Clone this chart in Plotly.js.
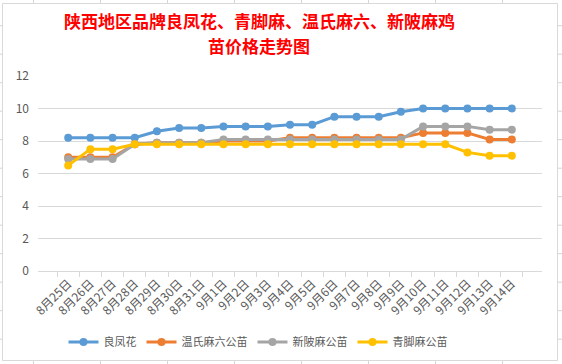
<!DOCTYPE html>
<html>
<head>
<meta charset="utf-8">
<script src="https://cdn.plot.ly/plotly-3.0.1.min.js"></script>
<style>html,body{margin:0;padding:0;background:#fff;}#chart{width:562px;height:364px;}</style>
</head>
<body>
<div id="chart"></div>
<script>
const dates = ['8月25日','8月26日','8月27日','8月28日','8月29日','8月30日','8月31日','9月1日','9月2日','9月3日','9月4日','9月5日','9月6日','9月7日','9月8日','9月9日','9月10日','9月11日','9月12日','9月13日','9月14日'];
const liangfenghua = [8.2,8.2,8.2,8.2,8.6,8.8,8.8,8.9,8.9,8.9,9.0,9.0,9.5,9.5,9.5,9.8,10,10,10,10,10];
const wenshiMaliu = [7.0,7.0,7.0,7.8,7.9,7.9,7.9,8.0,8.0,8.0,8.2,8.2,8.2,8.2,8.2,8.2,8.5,8.5,8.5,8.1,8.1];
const xinpiMa = [6.9,6.9,6.9,7.8,7.9,7.9,7.9,8.1,8.1,8.1,8.1,8.1,8.1,8.1,8.1,8.1,8.9,8.9,8.9,8.7,8.7];
const qingjiaoMa = [6.5,7.5,7.5,7.8,7.8,7.8,7.8,7.8,7.8,7.8,7.8,7.8,7.8,7.8,7.8,7.8,7.8,7.8,7.3,7.1,7.1];
const seriesNames = ['良凤花','温氏麻六公苗','新陂麻公苗','青脚麻公苗'];
const colors = ['#5B9BD5','#ED7D31','#A5A5A5','#FFC000'];
const yTicks = [0,2,4,6,8,10,12];
const titleLines = ['陕西地区品牌良凤花、青脚麻、温氏麻六、新陂麻鸡', '苗价格走势图'];

const W = 562, H = 364;
const mL = 38, mR = 20, mT = 76, mB = 93;
const pw = W - mL - mR, ph = H - mT - mB;
const px = x => (x - mL) / pw;
const py = y => (H - mB - y) / ph;

const allSeries = [liangfenghua, wenshiMaliu, xinpiMa, qingjiaoMa];
const traces = allSeries.map((s, i) => ({
  type: 'scatter', mode: 'lines+markers', name: seriesNames[i],
  x: dates, y: s,
  line: {color: colors[i], width: 3},
  marker: {color: colors[i], size: 8}
}));

const shapes = [];
const sheetLine = '#d6d6d6';
for (let k = 0; k < 8; k++) {
  const x = 33.5 + 67 * k;
  shapes.push({type:'line', xref:'paper', yref:'paper', x0:px(x), x1:px(x), y0:py(0), y1:py(H), line:{color:sheetLine, width:1}, layer:'below'});
}
for (let k = 0; k < 12; k++) {
  const y = 25.7 + 28.5 * k;
  shapes.push({type:'line', xref:'paper', yref:'paper', x0:px(0), x1:px(W), y0:py(y), y1:py(y), line:{color:sheetLine, width:1}, layer:'below'});
}
shapes.push({type:'rect', xref:'paper', yref:'paper', x0:px(2.5), x1:px(557.5), y0:py(3.5), y1:py(360.5), fillcolor:'#ffffff', line:{color:'#d9d9d9', width:1}, layer:'below'});

const titleY = [21, 45.5];
const annotations = titleLines.map((t, i) => ({
  text: t, xref: 'paper', yref: 'paper',
  x: px(259), y: py(titleY[i]), xanchor: 'center', yanchor: 'middle',
  showarrow: false, align: 'center', borderpad: 0,
  font: {family: '"Noto Sans CJK SC", sans-serif', size: 17, color: '#ff0000', weight: 'bold'}
}));

const layout = {
  width: W, height: H,
  margin: {l: mL, r: mR, t: mT, b: mB, autoexpand: false},
  paper_bgcolor: '#ffffff',
  plot_bgcolor: 'rgba(0,0,0,0)',
  font: {family: '"Noto Sans CJK SC", sans-serif', color: '#595959', size: 11},
  annotations: annotations,
  xaxis: {
    type: 'category', tickangle: -45, tickson: 'boundaries',
    ticks: 'outside', ticklen: 5, tickcolor: '#d9d9d9',
    showline: true, linecolor: '#d9d9d9', linewidth: 1,
    showgrid: false, zeroline: false,
    tickfont: {size: 12, color: '#595959'}, automargin: false
  },
  yaxis: {
    range: [0, 12], tickvals: yTicks, ticktext: yTicks.map(String),
    showgrid: true, gridcolor: '#d9d9d9', gridwidth: 1,
    zeroline: false, showline: false, ticks: '', ticklabelstandoff: 8,
    tickfont: {size: 12, color: '#595959'}, automargin: false
  },
  legend: {
    orientation: 'h', x: 258 / W, xref: 'container', xanchor: 'center',
    y: py(342), yanchor: 'middle',
    font: {size: 11, color: '#595959'}, itemwidth: 30, tracegroupgap: 0
  },
  shapes: shapes,
  showlegend: true
};

Plotly.newPlot('chart', traces, layout, {displayModeBar: false, staticPlot: true});
</script>
</body>
</html>
